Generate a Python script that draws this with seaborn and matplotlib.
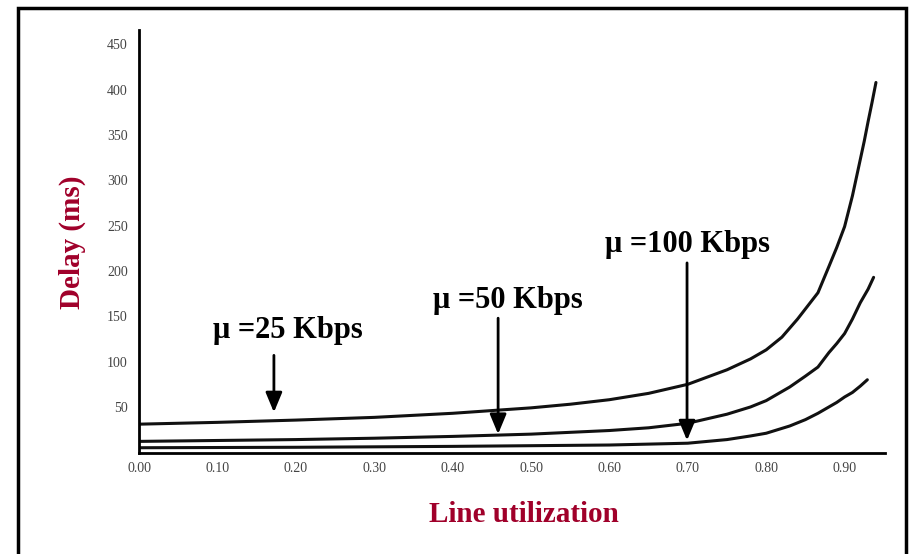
import numpy as np
import pandas as pd
import matplotlib
matplotlib.use("Agg")
import matplotlib.pyplot as plt
import seaborn as sns
from matplotlib.patches import Rectangle

# Values (delay in ms vs line utilization)
util_25 = [0.00, 0.10, 0.20, 0.30, 0.40, 0.50, 0.55, 0.60, 0.65, 0.70, 0.75,
           0.78, 0.80, 0.82, 0.84, 0.866, 0.88, 0.89, 0.90, 0.91, 0.92, 0.925,
           0.93, 0.935, 0.94]
delay_25 = [31, 33, 35.5, 38.5, 43, 49, 53, 58, 65, 75, 91,
            103, 113, 127, 147, 176, 205, 226, 249, 283, 323, 343,
            365, 386, 408]

util_50 = [0.00, 0.10, 0.20, 0.30, 0.40, 0.46, 0.50, 0.60, 0.65, 0.70, 0.75,
           0.78, 0.80, 0.83, 0.85, 0.866, 0.88, 0.89, 0.90, 0.91, 0.92, 0.93, 0.937]
delay_50 = [12, 13, 14, 15.5, 17.5, 19, 20, 24, 27, 32, 42,
            50, 57, 72, 84, 94, 110, 120, 131, 147, 165, 180, 193]

util_100 = [0.00, 0.20, 0.40, 0.60, 0.70, 0.75, 0.78, 0.80, 0.83, 0.85, 0.866,
            0.88, 0.89, 0.90, 0.91, 0.92, 0.929]
delay_100 = [5, 5.5, 6.5, 8, 10, 14, 18, 21, 29, 36, 43, 50, 55, 61, 66, 73, 80]

labels = ["\u03bc =25 Kbps", "\u03bc =50 Kbps", "\u03bc =100 Kbps"]
arrow_x = [0.172, 0.458, 0.699]
arrow_top = [110, 151, 212]
arrow_tip = [41, 17, 10]
label_x = [0.19, 0.47, 0.70]
label_y = [134, 168, 229]

yticks = [50, 100, 150, 200, 250, 300, 350, 400, 450]
xticks = [0.0, 0.1, 0.2, 0.3, 0.4, 0.5, 0.6, 0.7, 0.8, 0.9]

df = pd.concat([
    pd.DataFrame({"util": util_25, "delay": delay_25, "rate": "25"}),
    pd.DataFrame({"util": util_50, "delay": delay_50, "rate": "50"}),
    pd.DataFrame({"util": util_100, "delay": delay_100, "rate": "100"}),
])

sns.set_style("white")
plt.rcParams["font.family"] = ["Liberation Serif", "DejaVu Serif"]

fig = plt.figure(figsize=(9.09, 5.54), dpi=100)
ax = fig.add_axes([0.153, 0.182, 0.821, 0.764])

for r in ["25", "50", "100"]:
    sub = df[df["rate"] == r]
    sns.lineplot(data=sub, x="util", y="delay", ax=ax, color="#111111",
                 linewidth=2.2, legend=False)

for lab, ax_x, top, tip, lx, ly in zip(labels, arrow_x, arrow_top, arrow_tip, label_x, label_y):
    ax.annotate("", xy=(ax_x, tip), xytext=(ax_x, top),
                arrowprops=dict(arrowstyle="-|>,head_width=0.5,head_length=1.2",
                                color="black", lw=2))
    ax.text(lx, ly, lab, ha="center", va="center", fontsize=22,
            fontweight="bold", color="black")

ax.set_xlim(0, 0.952)
ax.set_ylim(-1, 466)
ax.set_yticks(yticks)
ax.set_yticklabels([str(v) for v in yticks], fontsize=10, color="#444444")
ax.set_xticks(xticks)
ax.set_xticklabels([f"{v:.2f}" for v in xticks], fontsize=10, color="#444444")
ax.set_xticks(np.arange(0.05, 0.96, 0.1), minor=True)
ax.tick_params(axis="both", which="both", direction="in", length=7,
               width=1, color="#333333", pad=8)
ax.tick_params(axis="x", which="major", pad=6)

for s in ["top", "right"]:
    ax.spines[s].set_visible(False)
for s in ["left", "bottom"]:
    ax.spines[s].set_color("black")
    ax.spines[s].set_linewidth(2)

ax.set_xlabel("")
ax.set_ylabel("")
fig.text(524 / 909, 1 - 514 / 554, "Line utilization", ha="center", va="center",
         fontsize=21, fontweight="bold", color="#a0002a")
fig.text(72 / 909, 1 - 242 / 554, "Delay (ms)", ha="center", va="center",
         rotation=90, fontsize=21, fontweight="bold", color="#a0002a")

# outer frame (open at the bottom)
fig.patches.append(Rectangle((17.5 / 909, -0.05), (906 - 17.5) / 909, 1.05 - 8 / 554,
                             transform=fig.transFigure, fill=False,
                             edgecolor="black", linewidth=2.5))

fig.savefig("out.png", dpi=100)
